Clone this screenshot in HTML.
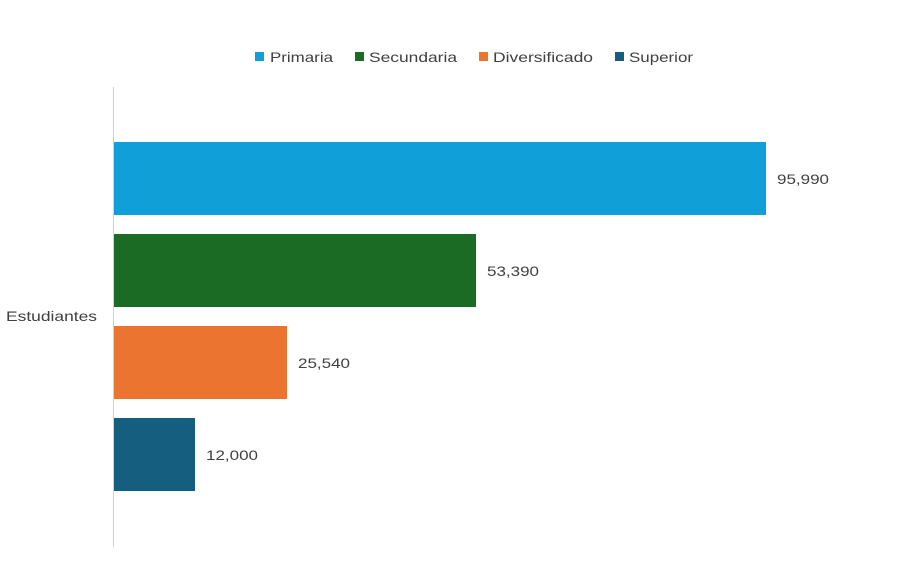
<!DOCTYPE html>
<html><head><meta charset="utf-8"><style>
body{margin:0;background:#fff;}
</style></head><body>
<svg width="897" height="564" xmlns="http://www.w3.org/2000/svg" font-family="Liberation Sans, sans-serif" font-size="14" fill="#404040">
<rect width="897" height="564" fill="#fff"/>
<rect x="255" y="52" width="9" height="9" fill="#119fd8"/>
<text x="270" y="62" textLength="63" lengthAdjust="spacingAndGlyphs">Primaria</text>
<rect x="355" y="52" width="9" height="9" fill="#1b6b25"/>
<text x="369" y="62" textLength="88" lengthAdjust="spacingAndGlyphs">Secundaria</text>
<rect x="479" y="52" width="9" height="9" fill="#eb7431"/>
<text x="493" y="62" textLength="100" lengthAdjust="spacingAndGlyphs">Diversificado</text>
<rect x="615" y="52" width="9" height="9" fill="#165e80"/>
<text x="629" y="62" textLength="64" lengthAdjust="spacingAndGlyphs">Superior</text>
<line x1="113.5" y1="87" x2="113.5" y2="547" stroke="#d0d0d0" stroke-width="1"/>
<text x="6" y="321" textLength="91" lengthAdjust="spacingAndGlyphs">Estudiantes</text>
<rect x="114" y="142" width="652" height="73" fill="#119fd8"/>
<text x="777" y="184" textLength="52" lengthAdjust="spacingAndGlyphs">95,990</text>
<rect x="114" y="234" width="362" height="73" fill="#1b6b25"/>
<text x="487" y="276" textLength="52" lengthAdjust="spacingAndGlyphs">53,390</text>
<rect x="114" y="326" width="173" height="73" fill="#eb7431"/>
<text x="298" y="368" textLength="52" lengthAdjust="spacingAndGlyphs">25,540</text>
<rect x="114" y="418" width="81" height="73" fill="#165e80"/>
<text x="206" y="460" textLength="52" lengthAdjust="spacingAndGlyphs">12,000</text>
</svg>
</body></html>
